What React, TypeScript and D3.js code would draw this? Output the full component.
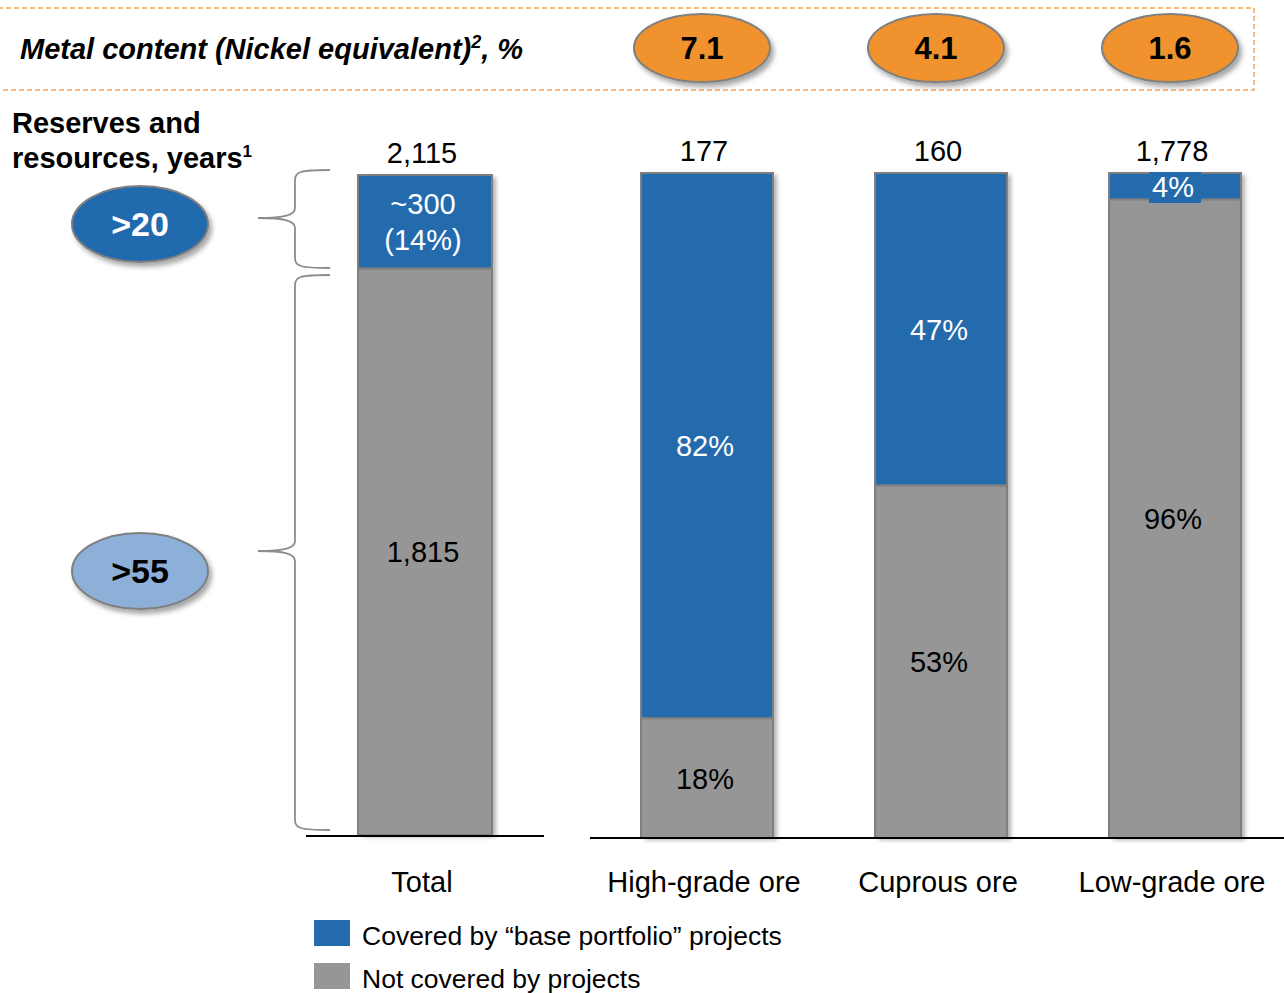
import React from "react";
import * as d3 from "d3";

// Reserves and resources by ore type
const CATEGORIES = ["Total", "High-grade ore", "Cuprous ore", "Low-grade ore"];
const TOTALS = [2115, 177, 160, 1778];
const COVERED = [300, 82, 47, 4];
const UNCOVERED = [1815, 18, 53, 96];
const METAL_CONTENT = [7.1, 4.1, 1.6];
const HORIZON_LABELS = [">20", ">55"];
const LEGEND_LABELS = ["Covered by \u201Cbase portfolio\u201D projects", "Not covered by projects"];

const BLUE = "#246BAE";
const GREY = "#969696";
const LIGHT_BLUE = "#8DB0D9";
const ORANGE = "#F0932F";
const FONT = "'Liberation Sans', Arial, sans-serif";

const W = 1284;
const H = 993;

export default function App() {
  const fmt = d3.format(",");
  const ores = CATEGORIES.slice(1);

  // x scales: the total bar stands apart, ore bars share a band scale
  const xOre = d3.scaleBand<string>().domain(ores).range([590, 1292]).paddingInner(0.436).paddingOuter(0.218);
  const bw = xOre.bandwidth();
  const totalX = 358;
  const totalW = 134;

  const yTotal = d3.scaleLinear().domain([0, 1]).range([835, 175]);
  const yOre = d3.scaleLinear().domain([0, 1]).range([838, 173]);

  const bars = CATEGORIES.map((c, i) => {
    const sum = COVERED[i] + UNCOVERED[i];
    const share = COVERED[i] / sum;
    const y = i === 0 ? yTotal : yOre;
    const x = i === 0 ? totalX : (xOre(c) as number);
    const w = i === 0 ? totalW : bw;
    const coveredLabel =
      i === 0 ? ["~" + fmt(COVERED[i]), `(${Math.round(share * 100)}%)`] : [`${COVERED[i]}%`];
    const uncoveredLabel = i === 0 ? fmt(UNCOVERED[i]) : `${UNCOVERED[i]}%`;
    return { c, i, x, w, y, share, coveredLabel, uncoveredLabel };
  });

  const braces = [
    { top: 170, bottom: 268, tip: 218 },
    { top: 275, bottom: 830, tip: 551 },
  ];
  const bracePath = (t: number, b: number, m: number) => {
    const xr = 330, xv = 295, xt = 258;
    return [
      `M${xr},${t}`,
      `C${xv + 4},${t} ${xv},${t + 2} ${xv},${t + 10}`,
      `L${xv},${m - 10}`,
      `C${xv},${m - 3} ${xv - 10},${m} ${xt},${m}`,
      `C${xv - 10},${m} ${xv},${m + 3} ${xv},${m + 10}`,
      `L${xv},${b - 10}`,
      `C${xv},${b - 2} ${xv + 4},${b} ${xr},${b}`,
    ].join(" ");
  };

  return (
    <svg
      width={W}
      height={H}
      viewBox={`0 0 ${W} ${H}`}
      style={{ position: "absolute", left: 0, top: 0, background: "#fff" }}
      fontFamily={FONT}
    >
      <defs>
        <filter id="shadow" x="-20%" y="-20%" width="150%" height="150%">
          <feDropShadow dx="3" dy="4" stdDeviation="2.5" floodColor="#000" floodOpacity="0.35" />
        </filter>
        <filter id="barShadow" x="-10%" y="-5%" width="130%" height="110%">
          <feDropShadow dx="4" dy="2" stdDeviation="2" floodColor="#000" floodOpacity="0.3" />
        </filter>
      </defs>

      {/* Metal content banner */}
      <rect x={-10} y={8} width={1264} height={82} fill="none" stroke="#F4A65A" strokeWidth={1.5} strokeDasharray="5,3" />
      <text x={20} y={59} fontSize={29} fontWeight="bold" fontStyle="italic" fill="#000">
        Metal content (Nickel equivalent)
        <tspan fontSize={18} dy={-11}>2</tspan>
        <tspan dy={11}>, %</tspan>
      </text>
      {METAL_CONTENT.map((v, i) => {
        const cx = (xOre(ores[i]) as number) + bw / 2 - 5;
        return (
          <g key={i}>
            <ellipse cx={cx} cy={48} rx={68} ry={34} fill={ORANGE} stroke="#7F7F7F" strokeWidth={2} filter="url(#shadow)" />
            <text x={cx} y={48} dy="0.36em" textAnchor="middle" fontSize={31} fontWeight="bold" fill="#000">
              {v.toFixed(1)}
            </text>
          </g>
        );
      })}

      {/* Left heading */}
      <text x={12} y={133} fontSize={29} fontWeight="bold" fill="#000">Reserves and</text>
      <text x={12} y={168} fontSize={29} fontWeight="bold" fill="#000">
        resources, years
        <tspan fontSize={17} dy={-11}>1</tspan>
      </text>

      {/* Horizon ellipses and braces */}
      {braces.map((b, i) => (
        <g key={i}>
          <path d={bracePath(b.top, b.bottom, b.tip)} fill="none" stroke="#8C8C8C" strokeWidth={1.8} />
          <ellipse cx={140} cy={i === 0 ? 224 : 571} rx={68} ry={38} fill={i === 0 ? BLUE : LIGHT_BLUE} stroke="#7F7F7F" strokeWidth={2} filter="url(#shadow)" />
          <text x={140} y={i === 0 ? 224 : 571} dy="0.36em" textAnchor="middle" fontSize={34} fontWeight="bold" fill={i === 0 ? "#fff" : "#000"}>
            {HORIZON_LABELS[i]}
          </text>
        </g>
      ))}

      {/* Stacked bars */}
      {bars.map((b) => {
        const yTop = b.y(1);
        const ySplit = b.y(1 - b.share);
        const yBottom = b.y(0);
        const cx = b.x + b.w / 2;
        const coveredMid = (yTop + ySplit) / 2;
        const uncoveredMid = (ySplit + yBottom) / 2;
        return (
          <g key={b.c}>
            <rect x={b.x} y={yTop} width={b.w} height={yBottom - yTop} fill={GREY} filter="url(#barShadow)" />
            <rect x={b.x} y={yTop} width={b.w} height={ySplit - yTop} fill={BLUE} stroke="#7F7F7F" strokeWidth={2} />
            <rect x={b.x} y={ySplit} width={b.w} height={yBottom - ySplit} fill={GREY} stroke="#7F7F7F" strokeWidth={2} />
            <text x={cx - 3} y={yTop - 12} textAnchor="middle" fontSize={29} fill="#000">
              {fmt(TOTALS[b.i])}
            </text>
            {b.i === 3 && (
              <rect x={cx - 26} y={yTop - 1} width={52} height={31} fill={BLUE} />
            )}
            {b.coveredLabel.map((l, j) => (
              <text
                key={j}
                x={cx - 2}
                y={coveredMid + (j - (b.coveredLabel.length - 1) / 2) * 36}
                dy="0.36em"
                textAnchor="middle"
                fontSize={29}
                fill="#fff"
              >
                {l}
              </text>
            ))}
            <text x={cx - 2} y={uncoveredMid} dy="0.36em" textAnchor="middle" fontSize={29} fill="#000">
              {b.uncoveredLabel}
            </text>
            <text x={cx - 3} y={882} dy="0.36em" textAnchor="middle" fontSize={29} fill="#000">
              {b.c}
            </text>
          </g>
        );
      })}

      {/* Baselines */}
      <line x1={306} x2={544} y1={836} y2={836} stroke="#000" strokeWidth={2} />
      <line x1={590} x2={1284} y1={838} y2={838} stroke="#000" strokeWidth={2} />

      {/* Legend */}
      {LEGEND_LABELS.map((l, i) => (
        <g key={l}>
          <rect x={314} y={920 + i * 43} width={36} height={26} fill={i === 0 ? BLUE : GREY} />
          <text x={362} y={935 + i * 43} dy="0.36em" fontSize={26.5} fill="#000">{l}</text>
        </g>
      ))}
    </svg>
  );
}
